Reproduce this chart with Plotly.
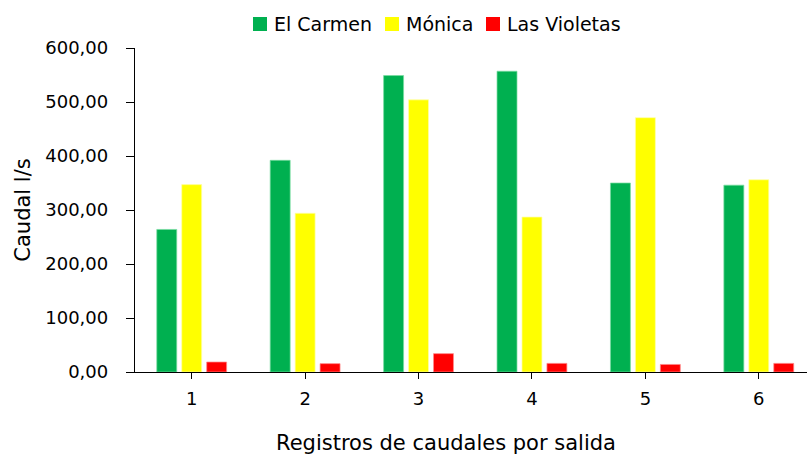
import plotly.graph_objects as go

# Registros de caudal (l/s) por salida
salidas = [1, 2, 3, 4, 5, 6]
el_carmen = [264, 392, 549, 557, 350, 346]
monica = [347, 294, 504, 287, 471, 356]
las_violetas = [18.5, 15.5, 34, 16, 14, 16]

y_ticks = [0, 100, 200, 300, 400, 500, 600]
y_tick_text = ["0,00", "100,00", "200,00", "300,00", "400,00", "500,00", "600,00"]

FONT = "DejaVu Sans"
W, H = 807, 459
ML, MR, MT, MB = 135, 0, 48, 87
PW, PH = W - ML - MR, H - MT - MB

series = [
    ("El Carmen", el_carmen, "#00B050", "rgba(120,220,160,0.9)"),
    ("Mónica", monica, "#FFFF00", "rgba(255,255,170,0.9)"),
    ("Las Violetas", las_violetas, "#FF0000", "rgba(255,140,140,0.9)"),
]

# left edge (px) of each legend key, with a compact key/text spacing
legend_key_left = [253, 385, 486]
KEY = 14
LEG_Y = 24


def px_x(px):
    return (px - ML) / PW


def px_y(py):
    return (H - MB - py) / PH


fig = go.Figure()
shapes, annotations = [], []
for (name, vals, color, edge), kx in zip(series, legend_key_left):
    fig.add_trace(go.Bar(
        x=salidas, y=vals, name=name, showlegend=False,
        marker=dict(color=color, line=dict(color=edge, width=0.8)),
    ))
    shapes.append(dict(
        type="rect", xref="paper", yref="paper",
        x0=px_x(kx), x1=px_x(kx + KEY),
        y0=px_y(LEG_Y + KEY / 2), y1=px_y(LEG_Y - KEY / 2),
        fillcolor=color, line=dict(width=0),
    ))
    annotations.append(dict(
        text=name, xref="paper", yref="paper",
        x=px_x(kx + KEY + 5), y=px_y(LEG_Y), xanchor="left", yanchor="middle",
        showarrow=False, font=dict(family=FONT, size=19, color="#000000"),
    ))

annotations.append(dict(
    text="Registros de caudales por salida", xref="paper", yref="paper",
    x=px_x(446), y=px_y(443), xanchor="center", yanchor="middle", showarrow=False,
    font=dict(family=FONT, size=21, color="#000000"),
))

fig.update_layout(
    width=W, height=H,
    margin=dict(l=ML, r=MR, t=MT, b=MB),
    paper_bgcolor="white", plot_bgcolor="white",
    barmode="group", bargap=0.34, bargroupgap=0.2,
    font=dict(family=FONT, color="#000000"),
    showlegend=False,
    shapes=shapes,
    annotations=annotations,
)

fig.update_xaxes(
    range=[0.5, 6.425], tickmode="array", tickvals=salidas,
    ticktext=[str(s) for s in salidas],
    showline=True, linecolor="#000000", linewidth=1.3,
    ticks="outside", ticklen=6, tickwidth=1.3, tickcolor="#000000",
    showgrid=False, zeroline=False,
    tickfont=dict(family=FONT, size=18),
    ticklabelstandoff=4,
)

fig.update_yaxes(
    range=[0, 600], tickmode="array", tickvals=y_ticks, ticktext=y_tick_text,
    showline=True, linecolor="#000000", linewidth=1.3,
    ticks="outside", ticklen=8, tickwidth=1.3, tickcolor="#000000",
    showgrid=False, zeroline=False,
    tickfont=dict(family=FONT, size=18),
    ticklabelstandoff=14,
    title=dict(text="Caudal l/s", font=dict(family=FONT, size=21), standoff=8),
)

fig.write_html("out.html")
